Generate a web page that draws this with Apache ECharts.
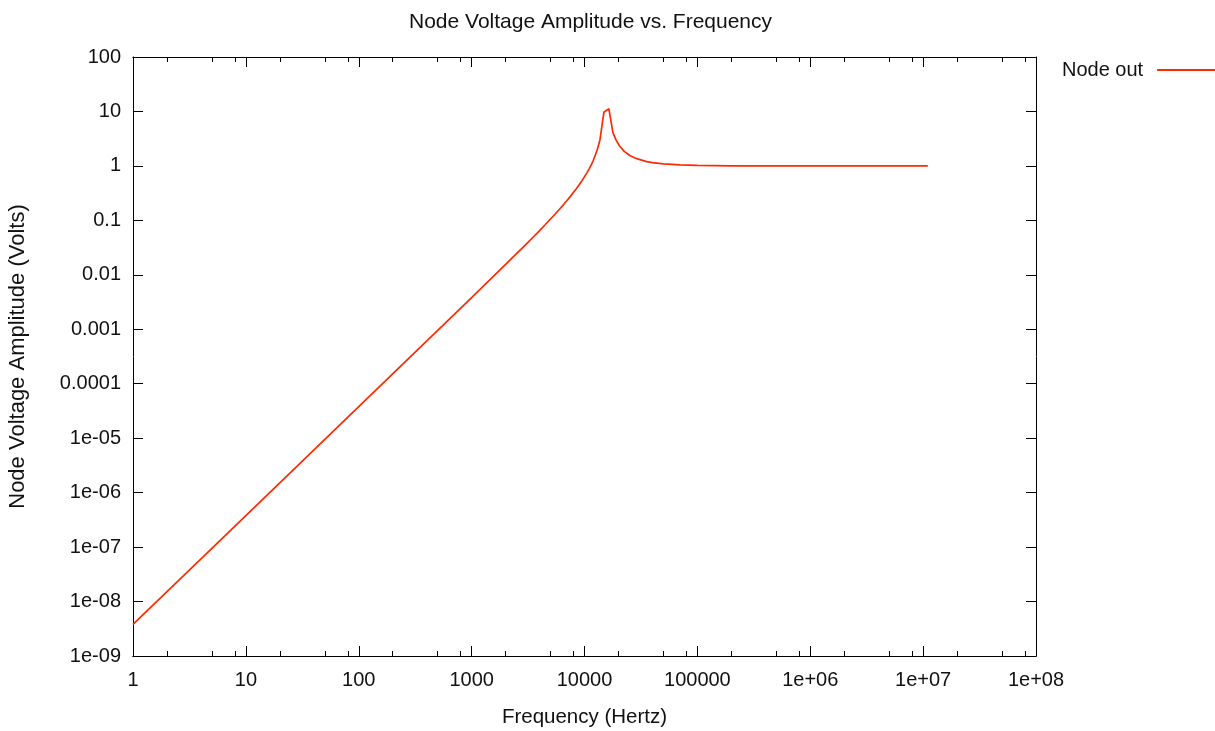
<!DOCTYPE html>
<html>
<head>
<meta charset="utf-8">
<title>Node Voltage Amplitude vs. Frequency</title>
<script src="https://cdn.jsdelivr.net/npm/echarts@6/dist/echarts.min.js"></script>
<style>
  html, body { margin: 0; padding: 0; background: #fff; }
  #chart { width: 1215px; height: 731px; }
</style>
</head>
<body>
<div id="chart"></div>
<script>
// values
const FREQ_HZ = [1, 10, 100, 1000, 2000, 2500, 3000, 3500, 4000, 4500, 5000, 5500, 6000, 6500,
  7000, 7500, 8000, 8500, 9000, 9500, 10000, 10500, 11000, 11500, 11900, 12500,
  13000, 13700, 14860, 16450, 17850, 19000, 20500, 22500, 25200, 28000, 30000, 35500,
  40000, 50000, 60000, 70000, 100000, 200000, 1000000, 11000000];
const AMPLITUDE_V = [3.8e-9, 3.8e-7, 3.8e-5, 3.82e-3, 0.0155, 0.0245, 0.0355, 0.049, 0.065, 0.084, 0.106, 0.131, 0.16, 0.193,
  0.232, 0.276, 0.327, 0.386, 0.455, 0.537, 0.634, 0.746, 0.885, 1.06, 1.23, 1.6,
  2.0, 3.0, 9.7, 11.2, 4.1, 3.0, 2.3, 1.85, 1.55, 1.4, 1.33, 1.2,
  1.15, 1.09, 1.065, 1.045, 1.02, 1.005, 1.0, 1.0];

const X_MAJOR_TICKS = [1, 10, 100, 1000, 10000, 100000, 1e6, 1e7, 1e8];
const X_TICK_LABELS = ['1', '10', '100', '1000', '10000', '100000', '1e+06', '1e+07', '1e+08'];
const X_MINOR_TICKS = [2, 5, 8, 20, 50, 80, 200, 500, 800, 2000, 5000, 8000,
  2e4, 5e4, 8e4, 2e5, 5e5, 8e5, 2e6, 5e6, 8e6, 2e7, 5e7, 8e7];
const Y_MAJOR_TICKS = [1e-9, 1e-8, 1e-7, 1e-6, 1e-5, 1e-4, 1e-3, 0.01, 0.1, 1, 10, 100];
const Y_TICK_LABELS = ['1e-09', '1e-08', '1e-07', '1e-06', '1e-05', '0.0001', '0.001', '0.01', '0.1', '1', '10', '100'];

const FONT = 'Liberation Sans';
const TEXT = '#111';
const FRAME = '#000';
const RED = '#ff2a00';

const chart = echarts.init(document.getElementById('chart'));

function xAxis(pos, ticks, len, labels) {
  return {
    type: 'log', logBase: 10, min: 1, max: 1e8, position: pos,
    axisLine: { show: true, onZero: false, lineStyle: { color: FRAME, width: 1 } },
    axisTick: { show: true, inside: true, length: len, customValues: ticks,
      lineStyle: { color: FRAME, width: 1 } },
    axisLabel: labels ? {
      show: true, customValues: X_MAJOR_TICKS, margin: 14,
      fontFamily: FONT, fontSize: 20, color: TEXT,
      formatter: v => X_TICK_LABELS[Math.round(Math.log10(v))]
    } : { show: false },
    splitLine: { show: false },
    minorTick: { show: false }
  };
}

function yAxis(pos, labels) {
  return {
    type: 'log', logBase: 10, min: 1e-9, max: 100, position: pos,
    axisLine: { show: true, onZero: false, lineStyle: { color: FRAME, width: 1 } },
    axisTick: { show: true, inside: true, length: 10, customValues: Y_MAJOR_TICKS,
      lineStyle: { color: FRAME, width: 1 } },
    axisLabel: labels ? {
      show: true, customValues: Y_MAJOR_TICKS, margin: 12,
      fontFamily: FONT, fontSize: 20, color: TEXT,
      formatter: v => Y_TICK_LABELS[Math.round(Math.log10(v)) + 9]
    } : { show: false },
    splitLine: { show: false }
  };
}

const bottom = xAxis('bottom', X_MAJOR_TICKS, 10, true);
bottom.name = 'Frequency (Hertz)';
bottom.nameLocation = 'middle';
bottom.nameGap = 51;
bottom.nameTextStyle = { fontFamily: FONT, fontSize: 20.5, color: TEXT };

const left = yAxis('left', true);
left.name = 'Node Voltage Amplitude (Volts)';
left.nameLocation = 'middle';
left.nameGap = 104;
left.nameTextStyle = { fontFamily: FONT, fontSize: 22, color: TEXT };

chart.setOption({
  animation: false,
  backgroundColor: '#fff',
  title: {
    text: 'Node Voltage Amplitude vs. Frequency',
    left: 404, top: 7,
    textStyle: { fontFamily: FONT, fontSize: 21, fontWeight: 'normal', color: TEXT }
  },
  legend: {
    data: ['Node out'],
    left: 1057, top: 55,
    align: 'right',
    icon: 'rect',
    itemWidth: 60, itemHeight: 2,
    textStyle: { fontFamily: FONT, fontSize: 20, color: TEXT, padding: [0, 9, 0, 0] }
  },
  grid: { left: 133, right: 179, top: 57, bottom: 75, outerBoundsMode: 'none' },
  xAxis: [
    bottom,
    xAxis('bottom', X_MINOR_TICKS, 5, false),
    xAxis('top', X_MAJOR_TICKS, 10, false),
    xAxis('top', X_MINOR_TICKS, 5, false)
  ],
  yAxis: [left, yAxis('right', false)],
  series: [{
    name: 'Node out',
    type: 'line',
    xAxisIndex: 0, yAxisIndex: 0,
    symbol: 'none',
    lineStyle: { color: RED, width: 1.7 },
    itemStyle: { color: RED },
    data: FREQ_HZ.map((f, i) => [f, AMPLITUDE_V[i]])
  }]
});
</script>
</body>
</html>
